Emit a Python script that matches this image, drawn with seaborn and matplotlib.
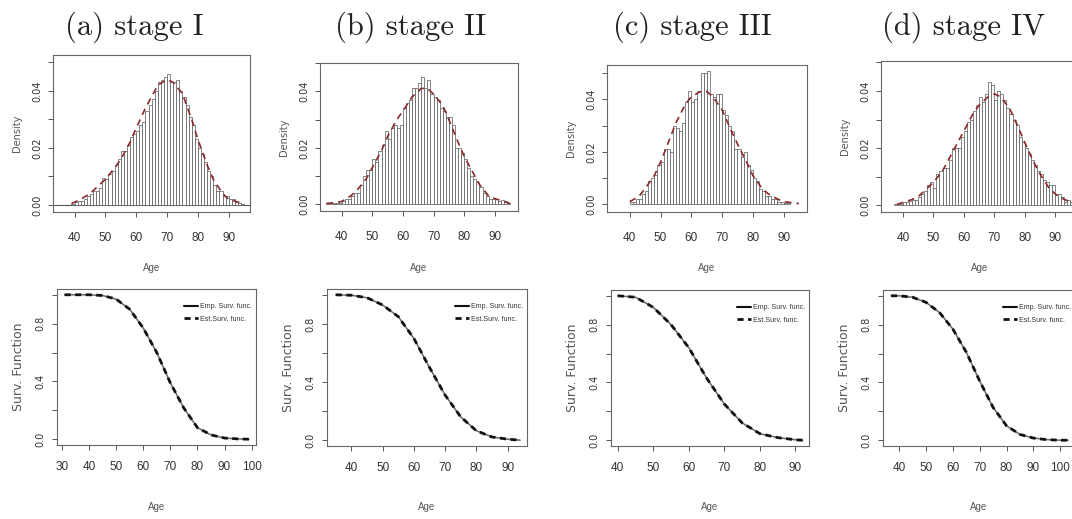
import numpy as np
import pandas as pd
import matplotlib
matplotlib.use("Agg")
import matplotlib.pyplot as plt
from matplotlib import font_manager
import seaborn as sns

W, H = 1072, 519

titles = ["(a) stage I", "(b) stage II", "(c) stage III", "(d) stage IV"]

# histograms: 1-year bins, first left edge per stage, bar heights (density)
hist_start = [39, 35, 40, 37]
dens_I = [0.0003, 0.001, 0.0015, 0.0015, 0.002, 0.003, 0.004, 0.005, 0.005, 0.006,
          0.0095, 0.009, 0.011, 0.012, 0.014, 0.016, 0.019, 0.019, 0.021, 0.024,
          0.025, 0.026, 0.028, 0.029, 0.033, 0.035, 0.037, 0.040, 0.043, 0.044,
          0.045, 0.046, 0.043, 0.043, 0.044, 0.040, 0.038, 0.035, 0.031, 0.028,
          0.023, 0.020, 0.018, 0.015, 0.012, 0.010, 0.007, 0.005, 0.005, 0.003,
          0.003, 0.002, 0.002, 0.001, 0.0008, 0.0005]
dens_II = [0.0005, 0.0005, 0.0005, 0.0003, 0.0005, 0.001, 0.002, 0.002, 0.003, 0.004,
           0.004, 0.007, 0.010, 0.012, 0.012, 0.016, 0.015, 0.019, 0.021, 0.026,
           0.023, 0.027, 0.028, 0.027, 0.028, 0.034, 0.036, 0.037, 0.041, 0.041,
           0.043, 0.045, 0.041, 0.044, 0.039, 0.038, 0.037, 0.034, 0.033, 0.031,
           0.031, 0.028, 0.020, 0.020, 0.018, 0.016, 0.013, 0.010, 0.009, 0.008,
           0.006, 0.004, 0.003, 0.002, 0.002, 0.002, 0.001, 0.0015, 0.001, 0.0005]
dens_III = [0.001, 0.001, 0.002, 0.002, 0.004, 0.005, 0.009, 0.010, 0.011, 0.015,
            0.016, 0.021, 0.021, 0.020, 0.030, 0.029, 0.028, 0.031, 0.039, 0.043,
            0.039, 0.040, 0.043, 0.050, 0.050, 0.051, 0.042, 0.041, 0.042, 0.042,
            0.036, 0.034, 0.030, 0.028, 0.021, 0.021, 0.018, 0.020, 0.015, 0.013,
            0.010, 0.009, 0.006, 0.005, 0.003, 0.003, 0.002, 0.002, 0.001, 0.001,
            0.0005, 0.0005]
dens_IV = [0.0005, 0.0003, 0.0005, 0.001, 0.001, 0.0015, 0.002, 0.002, 0.003, 0.004,
           0.005, 0.007, 0.008, 0.006, 0.011, 0.012, 0.013, 0.013, 0.016, 0.020,
           0.020, 0.020, 0.024, 0.026, 0.029, 0.030, 0.033, 0.035, 0.038, 0.036,
           0.039, 0.043, 0.042, 0.037, 0.040, 0.039, 0.037, 0.034, 0.032, 0.030,
           0.028, 0.024, 0.022, 0.020, 0.018, 0.016, 0.014, 0.012, 0.011, 0.009,
           0.008, 0.007, 0.007, 0.004, 0.004, 0.003, 0.001, 0.002, 0.001]
densities = [dens_I, dens_II, dens_III, dens_IV]

# fitted density curves (dashed red)
fit_age_I = [39, 42, 45, 48, 50, 53, 55, 58, 60, 63, 65, 67, 70, 72, 75, 78, 80, 83, 85, 88, 90, 93, 95]
fit_I = [0.0005, 0.002, 0.004, 0.007, 0.009, 0.013, 0.016, 0.022, 0.027, 0.034, 0.038, 0.042, 0.044,
         0.043, 0.039, 0.030, 0.023, 0.014, 0.009, 0.004, 0.002, 0.001, 0.0003]
fit_age_II = [35, 38, 40, 43, 45, 48, 50, 53, 55, 58, 60, 63, 66, 68, 70, 73, 75, 78, 80, 83, 85, 88, 90, 95]
fit_II = [0.0003, 0.0006, 0.001, 0.003, 0.005, 0.009, 0.013, 0.019, 0.024, 0.030, 0.033, 0.038, 0.041,
          0.041, 0.039, 0.035, 0.030, 0.022, 0.017, 0.011, 0.007, 0.003, 0.002, 0.0003]
fit_age_III = [40, 43, 45, 48, 50, 53, 55, 58, 60, 63, 65, 67, 70, 73, 75, 78, 80, 83, 85, 88, 90, 95]
fit_III = [0.001, 0.003, 0.006, 0.011, 0.016, 0.025, 0.031, 0.038, 0.041, 0.043, 0.043, 0.041, 0.036,
           0.028, 0.023, 0.016, 0.011, 0.006, 0.004, 0.002, 0.001, 0.0003]
fit_age_IV = [38, 40, 43, 45, 48, 50, 53, 55, 58, 60, 63, 65, 68, 70, 72, 75, 78, 80, 83, 85, 88, 90, 93, 96]
fit_IV = [0.0003, 0.001, 0.002, 0.003, 0.006, 0.008, 0.012, 0.016, 0.022, 0.026, 0.032, 0.035, 0.038,
          0.039, 0.038, 0.034, 0.027, 0.022, 0.015, 0.011, 0.006, 0.004, 0.002, 0.001]
fit_ages = [fit_age_I, fit_age_II, fit_age_III, fit_age_IV]
fits = [fit_I, fit_II, fit_III, fit_IV]

# survival functions (empirical and estimated overlap)
surv_age_I = [31, 40, 45, 50, 55, 60, 65, 70, 75, 80, 85, 90, 95, 99]
surv_I = [1.0, 1.0, 0.995, 0.97, 0.90, 0.77, 0.60, 0.39, 0.215, 0.08, 0.03, 0.008, 0.002, 0.0]
surv_age_II = [35, 40, 45, 50, 55, 60, 65, 70, 75, 80, 85, 90, 94]
surv_II = [1.0, 0.997, 0.98, 0.93, 0.85, 0.70, 0.50, 0.31, 0.16, 0.065, 0.022, 0.007, 0.0]
surv_age_III = [40, 45, 50, 55, 60, 65, 70, 75, 80, 85, 90, 92]
surv_III = [1.0, 0.99, 0.92, 0.80, 0.64, 0.43, 0.25, 0.12, 0.045, 0.018, 0.003, 0.0]
surv_age_IV = [37, 40, 45, 50, 55, 60, 65, 70, 75, 80, 85, 90, 95, 100, 103]
surv_IV = [1.0, 1.0, 0.99, 0.955, 0.885, 0.77, 0.61, 0.41, 0.227, 0.10, 0.04, 0.015, 0.004, 0.0, 0.0]
surv_ages = [surv_age_I, surv_age_II, surv_age_III, surv_age_IV]
survs = [surv_I, surv_II, surv_III, surv_IV]

top_xticks = [[40, 50, 60, 70, 80, 90]] * 4
bot_xticks = [[30, 40, 50, 60, 70, 80, 90, 100], [40, 50, 60, 70, 80, 90],
              [40, 50, 60, 70, 80, 90], [40, 50, 60, 70, 80, 90, 100]]

# pixel boxes (x0, y0, x1, y1) and axis limits
top_boxes = [(53, 55, 250, 212), (320, 63, 518, 211), (607, 65, 807, 212), (881, 61, 1078, 212)]
top_xlim = [(33.0, 96.9), (32.9, 97.6), (32.6, 97.6), (32.8, 97.5)]
top_ylim = [(-0.00246, 0.0526), (-0.00237, 0.0498), (-0.00294, 0.0531), (-0.00235, 0.0505)]
bot_boxes = [(57, 289, 256, 445), (327, 289, 527, 446), (611, 290, 809, 446), (883, 290, 1075, 446)]
bot_xlim = [(28.2, 101.6), (32.2, 96.2), (38.1, 93.8), (34.0, 105.5)]
title_x = [134, 411, 692, 964]

sns.set_style("white")
names = {f.name for f in font_manager.fontManager.ttflist}
narrow = "Liberation Sans Narrow" if "Liberation Sans Narrow" in names else "Liberation Sans"
plt.rcParams["font.family"] = ["DejaVu Sans"]

fig = plt.figure(figsize=(W / 100, H / 100), dpi=100)
fig.patch.set_facecolor("white")


def make_axes(box):
    x0, y0, x1, y1 = box
    return fig.add_axes([x0 / W, 1 - y1 / H, (x1 - x0) / W, (y1 - y0) / H])


def style_axes(ax, box, xlab_y, ylab_x, xpad, ypad):
    x0, y0, x1, y1 = box
    for s in ax.spines.values():
        s.set_visible(True)
        s.set_color("#666666")
        s.set_linewidth(0.8)
    ax.tick_params(direction="out", length=3.6, width=0.7, color="#555555",
                   labelcolor="#333333", bottom=True, left=True)
    ax.tick_params(axis="x", pad=xpad, labelsize=8.5)
    ax.tick_params(axis="y", pad=ypad, labelsize=7, labelrotation=90)
    for lab in ax.get_xticklabels():
        lab.set_family(narrow)
    for lab in ax.get_yticklabels():
        lab.set_va("center")
    ax.xaxis.set_label_coords(0.5, (y1 - xlab_y) / (y1 - y0))
    ax.yaxis.set_label_coords((ylab_x - x0) / (x1 - x0), 0.5)
    ax.xaxis.label.set_va("center")
    ax.yaxis.label.set_va("center")


for i in range(4):
    # top: histogram + fitted density
    ax = make_axes(top_boxes[i])
    dens = densities[i]
    edges = [hist_start[i] + k for k in range(len(dens) + 1)]
    hist_df = pd.DataFrame({"age": [e + 0.5 for e in edges[:-1]], "dens": dens})
    if i == 0:
        ax.axhline(0, color="#555555", linewidth=0.8, zorder=0)
    sns.histplot(data=hist_df, x="age", weights="dens", bins=edges, stat="count", ax=ax,
                 color="white", edgecolor="#555555", linewidth=0.5, alpha=1)
    sns.lineplot(x=fit_ages[i], y=fits[i], ax=ax, color="#8b2a2a",
                 linestyle=(0, (4, 3)), linewidth=1.2)
    ax.set_xlim(*top_xlim[i])
    ax.set_ylim(*top_ylim[i])
    ax.set_xticks(top_xticks[i])
    ax.set_yticks([0.0, 0.01, 0.02, 0.03, 0.04, 0.05])
    ax.set_yticklabels(["0.00", "", "0.02", "", "0.04", ""])
    ax.set_xlabel("Age", fontsize=7, color="#555555", family=narrow)
    ax.set_ylabel("Density", fontsize=7, color="#555555")
    style_axes(ax, top_boxes[i], 268, top_boxes[i][0] - 36, 11, 4)
    fig.text(title_x[i] / W, 1 - 35 / H, titles[i], family="cmr10", fontsize=22,
             ha="center", va="baseline", color="#222222")

    # bottom: survival functions
    ax = make_axes(bot_boxes[i])
    sns.lineplot(x=surv_ages[i], y=survs[i], ax=ax, color="#666666",
                 linewidth=1.1, label="Emp. Surv. func.")
    sns.lineplot(x=surv_ages[i], y=survs[i], ax=ax, color="#111111",
                 linestyle=(0, (2.2, 1.6)), linewidth=2.0, label="Est.Surv. func.")
    ax.set_xlim(*bot_xlim[i])
    ax.set_ylim(-0.04, 1.04)
    ax.set_xticks(bot_xticks[i])
    ax.set_yticks([0.0, 0.2, 0.4, 0.6, 0.8, 1.0])
    ax.set_yticklabels(["0.0", "", "0.4", "", "0.8", ""])
    ax.set_xlabel("Age", fontsize=7, color="#555555", family=narrow)
    ax.set_ylabel("Surv. Function", fontsize=9, color="#555555")
    style_axes(ax, bot_boxes[i], 507, bot_boxes[i][0] - 38, 8, 5)
    leg = ax.legend(loc="upper right", bbox_to_anchor=(1.0, 0.935), frameon=False,
                    prop={"family": narrow, "size": 5}, handlelength=2.0,
                    handletextpad=0.3, labelspacing=0.8, borderaxespad=0.2)
    leg.get_lines()[0].set_color("#111111")
    leg.get_lines()[0].set_linewidth(1.5)
    for t in leg.get_texts():
        t.set_color("#333333")

fig.savefig("out.png", dpi=100, facecolor="white")
